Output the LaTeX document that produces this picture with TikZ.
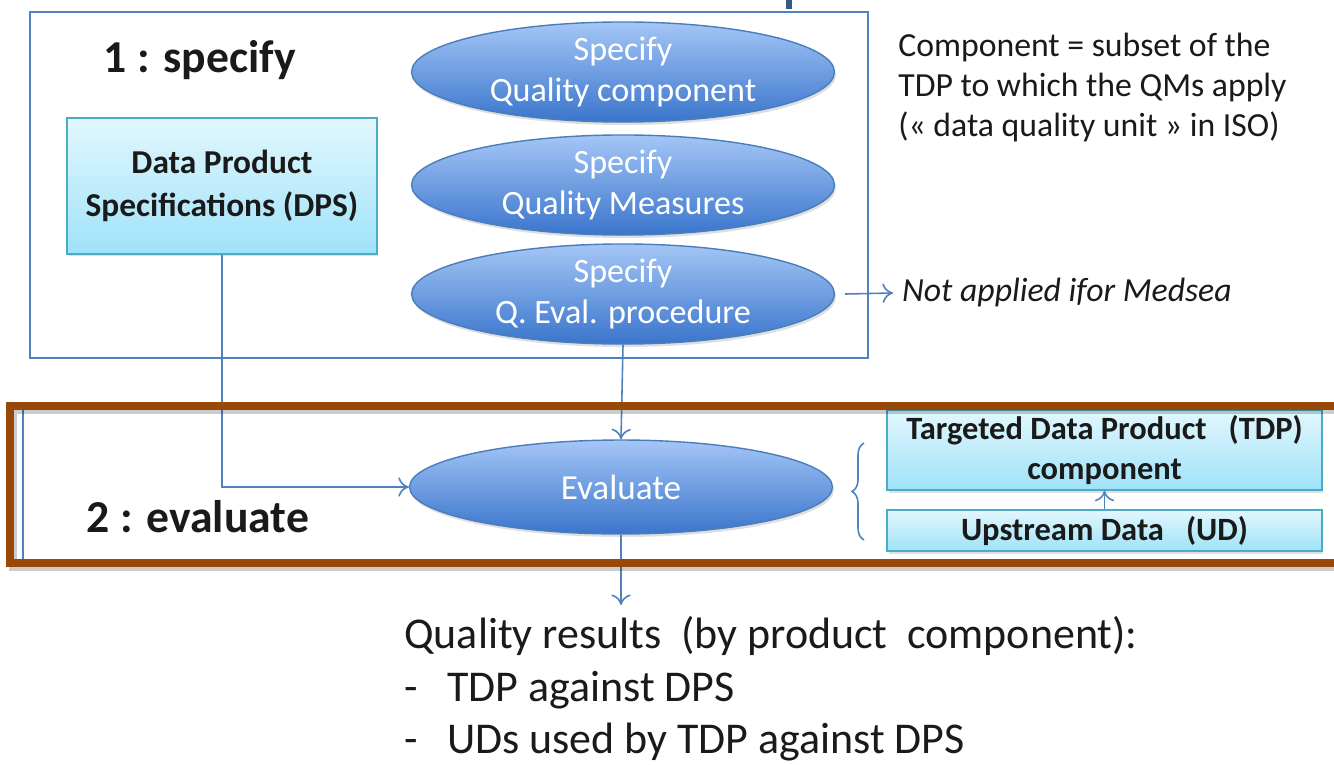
\documentclass[tikz,border=0pt]{standalone}
\usepackage{fontspec}
\setmainfont{Carlito}
\usetikzlibrary{shapes.geometric,shadows,decorations.pathreplacing,arrows.meta}

\definecolor{frameblue}{HTML}{4F81BD}
\definecolor{ovaltop}{HTML}{A4C6F6}
\definecolor{ovalbottom}{HTML}{3A75CC}
\definecolor{ovalline}{HTML}{4A7EBB}
\definecolor{boxtop}{HTML}{E2F7FD}
\definecolor{boxbottom}{HTML}{9FE2F9}
\definecolor{boxline}{HTML}{4BACC6}
\definecolor{evalbrown}{HTML}{984807}
\definecolor{inkdark}{HTML}{1A1A1A}

\tikzset{
	oval/.style={ellipse, draw=ovalline, line width=0.8pt, top color=ovaltop, bottom color=ovalbottom,
		text=white, minimum width=8.46cm, minimum height=1.8cm, inner sep=0pt, align=center,
		font=\fontsize{19.4}{23.8}\selectfont,
		drop shadow={opacity=0.25, shadow xshift=0.03cm, shadow yshift=-0.06cm}},
	cyanbox/.style={rectangle, draw=boxline, line width=0.9pt, top color=boxtop, bottom color=boxbottom,
		text=inkdark, align=center, inner sep=0pt, font=\bfseries\fontsize{18.5}{22.7}\selectfont,
		drop shadow={opacity=0.25, shadow xshift=0.03cm, shadow yshift=-0.05cm}},
	link/.style={frameblue, line width=0.9pt, -{To[length=6pt, width=11pt]}},
	frame/.style={frameblue, line width=1.4pt},
	steplabel/.style={text=inkdark, font=\bfseries\fontsize{26}{30}\selectfont},
	note/.style={text=inkdark, align=left, inner sep=0pt, font=\fontsize{19.2}{22.7}\selectfont}
}

\begin{document}
\begin{tikzpicture}[x=0.02cm, y=-0.02cm]
	\useasboundingbox (0,0) rectangle (1334,764);
	\clip (0,0) rectangle (1334,764);
	\fill[white] (0,0) rectangle (1334,764);

	\fill[frameblue!70!black] (786,0) rectangle (792,9);

	\draw[frame] (30,12) rectangle (868,358);
	\draw[frame] (23,409) rectangle (1350,562);

	\node[steplabel] (spec) at (200,60) {1 : specify};
	\node[steplabel] (eval) at (198,517) {2 : evaluate};

	\node[cyanbox, minimum width=6.2cm, minimum height=2.72cm, font=\bfseries\fontsize{19}{24.4}\selectfont] (dps) at (222,186) {Data Product\\Specifications (DPS)};

	\node[oval] (qc) at (623,72) {Specify\\Quality component};
	\node[oval] (qm) at (623,185) {Specify\\Quality Measures};
	\node[oval] (qe) at (623,294) {Specify\\Q. Eval. procedure};
	\node[oval, minimum height=1.88cm, font=\fontsize{20}{24}\selectfont] (ev) at (621,487) {Evaluate};

	\node[note, anchor=north west] (comp) at (898,33) {Component = subset of the\\TDP to which the QMs apply\\(« data quality unit » in ISO)};
	\node[note, anchor=west, inner xsep=5pt, font=\itshape\fontsize{19.2}{22.7}\selectfont] (na) at (893,293) {Not applied ifor Medsea};

	\node[cyanbox, minimum width=8.7cm, minimum height=1.6cm] (tdp) at (1104.5,450) {Targeted Data Product\ \ \ (TDP)\\component};
	\node[cyanbox, minimum width=8.7cm, minimum height=0.82cm] (ud) at (1104.5,530.5) {Upstream Data\ \ \ (UD)};

	\draw[frameblue, line width=0.9pt, decorate, decoration={brace, amplitude=0.24cm}] (864,540) -- (864,443);

	\draw[link] ([xshift=0.2cm]qe.east) -- (na.west);
	\draw[link] (dps.south) |- (ev.west);
	\draw[link] (qe.south) -- (ev.north);
	\draw[link] (ud.north) -- (tdp.south);

	\coordinate (out) at (621,605);
	\draw[link] (ev.south) -- (out);

	\node[note, anchor=north west, font=\fontsize{25}{30}\selectfont] (res) at (404,616) {Quality results\ \ (by product\ \ component):\\\makebox[24.4pt][l]{-}TDP against DPS\\\makebox[24.4pt][l]{-}UDs used by TDP against DPS};

	\draw[black, opacity=0.2, line width=4.5pt] (13,410) rectangle (1364,567);
	\draw[evalbrown, line width=4.5pt] (10,406) rectangle (1360,563);

\end{tikzpicture}
\end{document}
